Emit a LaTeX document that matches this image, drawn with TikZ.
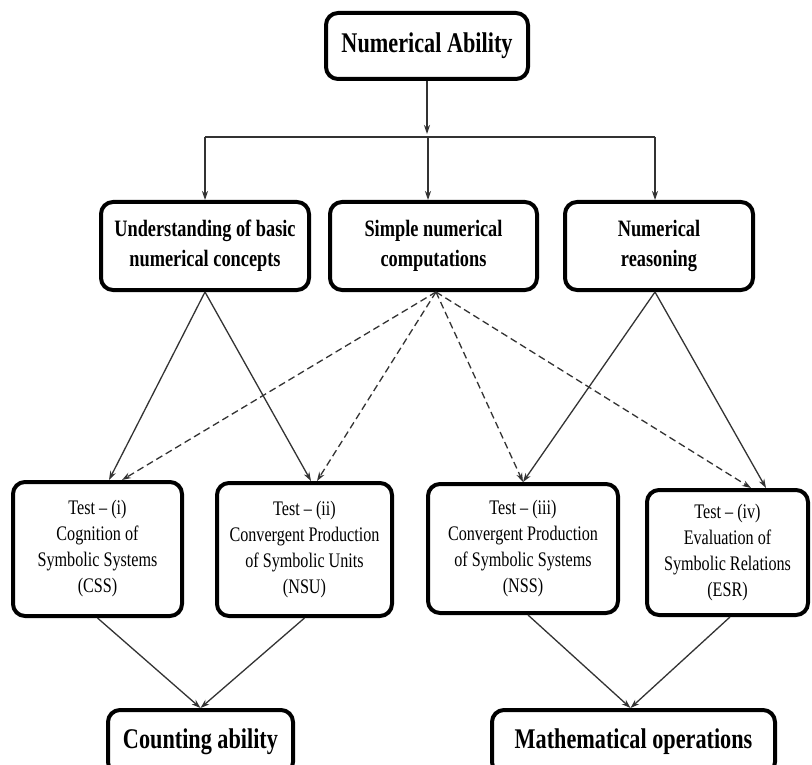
\documentclass[tikz,border=0pt]{standalone}
\usepackage{fontspec}
\setmainfont{Liberation Serif}[FakeStretch=0.78]
\usetikzlibrary{arrows.meta}
\begin{document}
\begin{tikzpicture}[x=1pt,y=-1pt,
  box/.style={draw=black, line width=4pt, rounded corners=12pt, fill=white, align=center, inner sep=0pt},
  big/.style={box, font=\fontsize{28.5}{32}\selectfont\bfseries},
  mid/.style={box, font=\fontsize{23.5}{30}\selectfont\bfseries},
  test/.style={box, font=\fontsize{20.7}{26}\selectfont},
  conn/.style={draw=black!80, line width=1.3pt},
  arr/.style={conn, -{Stealth[length=9pt,width=6pt]}},
  dsh/.style={arr, dash pattern=on 7pt off 4pt}]
\useasboundingbox (0,0) rectangle (812,765);
\clip (0,0) rectangle (812,765);
\fill[white] (0,0) rectangle (812,765);

\node[big, minimum width=202pt, minimum height=66pt] (na) at (427,46) {Numerical Ability};

\node[mid, minimum width=208pt, minimum height=88pt] (ua) at (205,246) {Understanding of basic\\numerical concepts};
\node[mid, minimum width=207pt, minimum height=88pt] (sn) at (433.5,246) {Simple numerical\\computations};
\node[mid, minimum width=188pt, minimum height=88pt] (nr) at (659,246) {Numerical\\reasoning};

\node[test, minimum width=169pt, minimum height=134pt] (t1) at (97.5,549) {Test -- (i)\\Cognition of\\Symbolic Systems\\(CSS)};
\node[test, minimum width=175pt, minimum height=133pt] (t2) at (304.5,549.5) {Test -- (ii)\\Convergent Production\\of Symbolic Units\\(NSU)};
\node[test, minimum width=190pt, minimum height=129pt] (t3) at (523,548.5) {Test -- (iii)\\Convergent Production\\of Symbolic Systems\\(NSS)};
\node[test, minimum width=161pt, minimum height=125pt] (t4) at (727.5,552.5) {Test -- (iv)\\Evaluation of\\Symbolic Relations\\(ESR)};

\node[big, minimum width=185pt, minimum height=64pt] (ca) at (200.5,742) {Counting ability};
\node[big, minimum width=283pt, minimum height=64pt] (mo) at (633.5,742) {Mathematical operations};

% top distribution
\coordinate (hl) at (205,137);
\coordinate (hm) at (428,137);
\coordinate (hr) at (655,137);
\coordinate (hj) at (427,134);
\draw[arr] (na.south) -- (hj);
\draw[conn] (hl) -- (hr);
\draw[arr] (hl) -- (ua.north);
\draw[arr] (hm) -- (hm |- sn.north);
\draw[arr] (hr) -- (hr |- nr.north);

% solid links
\draw[arr] (ua.south) -- ([xshift=11.5pt]t1.north);
\draw[arr] (ua.south) -- ([xshift=6.5pt]t2.north);
\draw[arr] ([xshift=-4pt]nr.south) -- (t3.north);
\draw[arr] ([xshift=-4pt]nr.south) -- ([xshift=38.5pt]t4.north);

% dashed links
\draw[dsh] ([xshift=2.5pt]sn.south) -- ([xshift=24.5pt]t1.north);
\draw[dsh] ([xshift=2.5pt]sn.south) -- ([xshift=12.5pt]t2.north);
\draw[dsh] ([xshift=2.5pt]sn.south) -- (t3.north);
\draw[dsh] ([xshift=2.5pt]sn.south) -- ([xshift=23.5pt]t4.north);

% bottom links
\draw[arr] (t1.south) -- (ca.north);
\draw[arr] (t2.south) -- (ca.north);
\draw[arr] ([xshift=5pt]t3.south) -- ([xshift=-3pt]mo.north);
\draw[arr] ([xshift=2.5pt]t4.south) -- ([xshift=-3pt]mo.north);
\end{tikzpicture}
\end{document}
